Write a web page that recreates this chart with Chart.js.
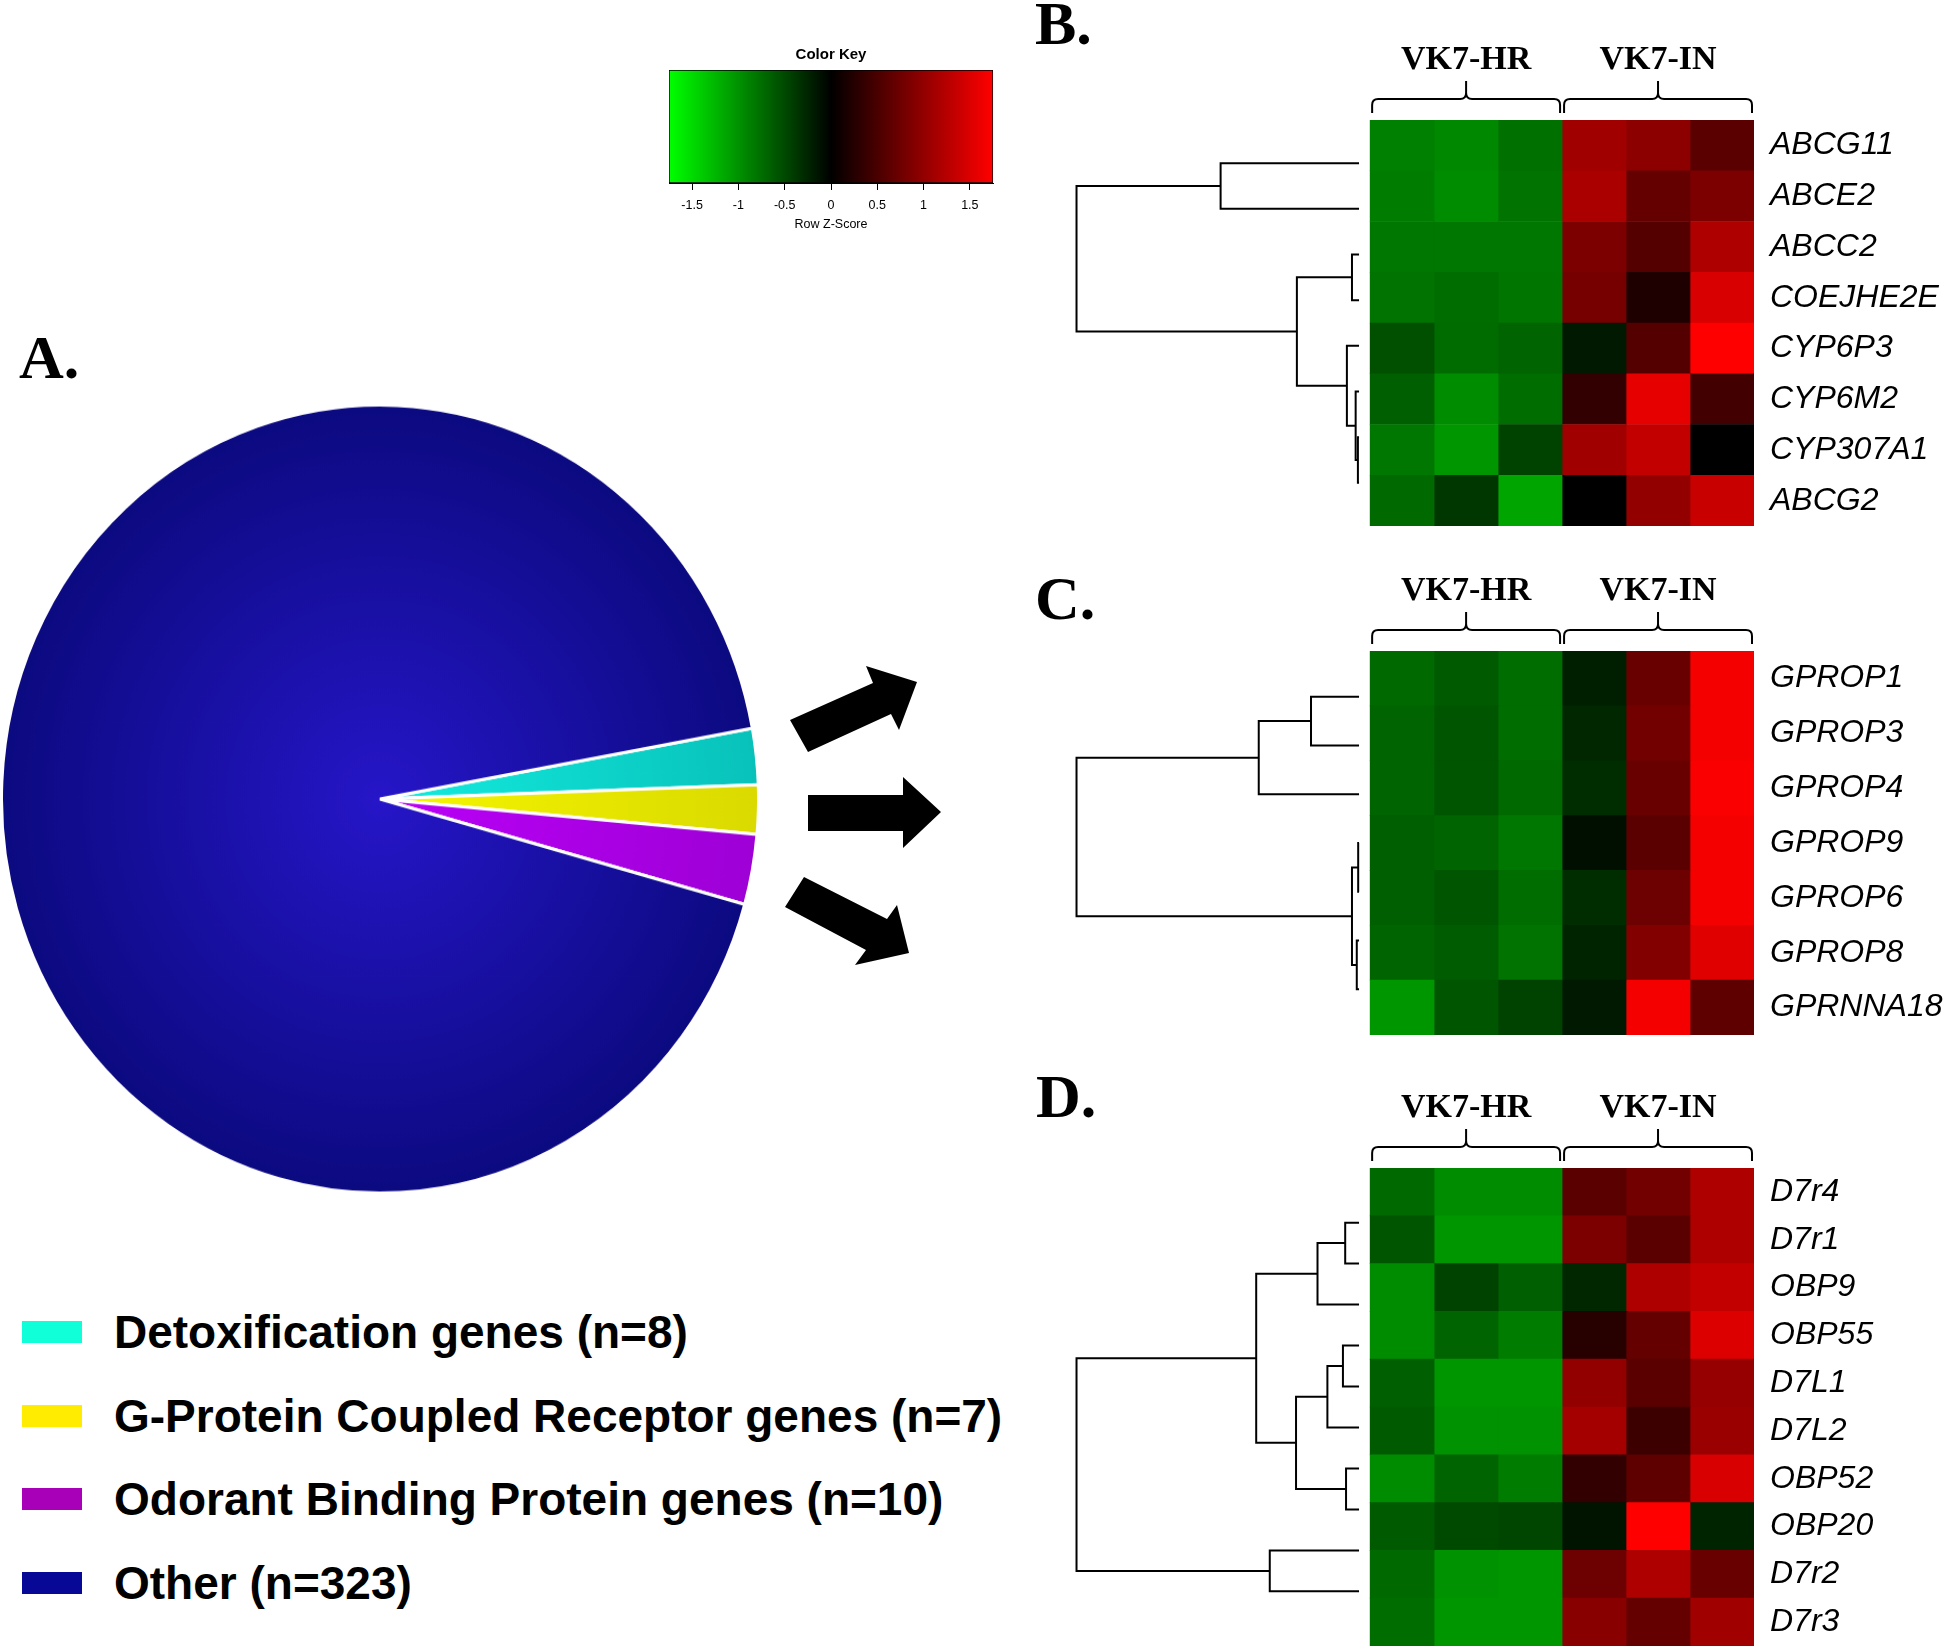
<!doctype html>
<html lang="en">
<head>
<meta charset="utf-8">
<title>Gene categories and expression heatmaps</title>
<script src="https://cdn.jsdelivr.net/npm/chart.js"></script>
<style>
  html, body { margin: 0; padding: 0; background: #fff; }
  body { position: relative; width: 1944px; height: 1650px; overflow: hidden; font-family: 'Liberation Sans', Arial, sans-serif; }
  .box { position: absolute; }
  .letter { position: absolute; font-family: 'Liberation Serif', 'Times New Roman', serif; font-weight: bold; font-size: 62px; line-height: 62px; color: #000; }
  .legend-row { position: absolute; left: 22px; height: 54px; display: flex; align-items: center; }
  .legend-row .sw { width: 60px; height: 22px; margin-right: 32px; }
  .legend-row .tx { font-weight: bold; font-size: 46px; line-height: 54px; color: #000; white-space: nowrap; }
  #arrows { position: absolute; left: 0; top: 0; pointer-events: none; }
</style>
</head>
<body>

<div class="letter" style="left:19px; top:326px;">A.</div>
<div class="letter" style="left:1035px; top:-8px;">B.</div>
<div class="letter" style="left:1035px; top:567px;">C.</div>
<div class="letter" style="left:1036px; top:1065px;">D.</div>

<div class="box" id="pieBox" style="left:0; top:419px; width:760px; height:760px; transform:scaleY(1.041); transform-origin:50% 50%;">
  <canvas id="pieChart"></canvas>
</div>
<div id="legend"></div>

<div class="box" style="left:639px; top:46px; width:384px; height:188px;">
  <canvas id="keyChart"></canvas>
</div>

<div class="box" style="left:1060px; top:38px; width:884px; height:488px;">
  <canvas id="detoxChart"></canvas>
</div>
<div class="box" style="left:1060px; top:569px; width:884px; height:466px;">
  <canvas id="gpcrChart"></canvas>
</div>
<div class="box" style="left:1060px; top:1086px; width:884px; height:560px;">
  <canvas id="obpChart"></canvas>
</div>

<svg id="arrows" width="1944" height="1650">
  <polygon points="790,720 873,683 866,666 917,682 899,730 891,714 808,752" fill="#000"/>
  <polygon points="808,795 903,795 903,777 941,812 903,848 903,831 808,831" fill="#000"/>
  <polygon points="804,877 887,919 897,905 909,953 855,965 866,950 785,907" fill="#000"/>
</svg>

<script>
// ---- pie (panel A) ----
const pieCategories = ['Detoxification genes', 'G-Protein Coupled Receptor genes', 'Odorant Binding Protein genes', 'Other'];
const pieCounts = [8, 7, 10, 323];

// ---- heatmap columns / groups ----
const sampleNames = ['HR-1', 'HR-2', 'HR-3', 'IN-1', 'IN-2', 'IN-3'];
const groupNames = ['VK7-HR', 'VK7-IN'];
const samplesPerGroup = 3;

// ---- color key ----
const keyMin = -1.75;
const keyMax = 1.75;
const keyTicks = [-1.5, -1, -0.5, 0, 0.5, 1, 1.5];

// ---- panel B: detoxification genes (row z-scores) ----
const detoxGenes = ['ABCG11', 'ABCE2', 'ABCC2', 'COEJHE2E', 'CYP6P3', 'CYP6M2', 'CYP307A1', 'ABCG2'];
const detoxValues = [
  [-0.88, -0.93, -0.77, 1.10, 0.96, 0.62],
  [-0.86, -0.96, -0.79, 1.17, 0.69, 0.86],
  [-0.82, -0.82, -0.82, 0.86, 0.58, 1.20],
  [-0.79, -0.75, -0.81, 0.81, 0.21, 1.48],
  [-0.55, -0.74, -0.69, -0.17, 0.58, 1.75],
  [-0.65, -0.96, -0.75, 0.34, 1.58, 0.45],
  [-0.82, -1.03, -0.45, 1.10, 1.34, 0.00],
  [-0.72, -0.38, -1.13, 0.00, 1.00, 1.37]
];
// merges: [a, b, height]; ids < n are rows, id n+j is merge j
const detoxMerges = [
  [6, 7, 0.04],
  [5, 8, 0.12],
  [4, 9, 0.43],
  [2, 3, 0.25],
  [11, 10, 2.2],
  [0, 1, 4.9],
  [13, 12, 10]
];

// ---- panel C: G-protein coupled receptor genes ----
const gpcrGenes = ['GPROP1', 'GPROP3', 'GPROP4', 'GPROP9', 'GPROP6', 'GPROP8', 'GPRNNA18'];
const gpcrValues = [
  [-0.72, -0.62, -0.75, -0.21, 0.72, 1.68],
  [-0.69, -0.58, -0.75, -0.27, 0.79, 1.68],
  [-0.69, -0.58, -0.72, -0.31, 0.72, 1.72],
  [-0.65, -0.69, -0.82, -0.10, 0.62, 1.68],
  [-0.65, -0.58, -0.75, -0.31, 0.75, 1.68],
  [-0.69, -0.63, -0.79, -0.24, 0.89, 1.54],
  [-1.03, -0.58, -0.45, -0.17, 1.68, 0.65]
];
const gpcrMerges = [
  [0, 1, 1.7],
  [7, 2, 3.55],
  [3, 4, 0.03],
  [5, 6, 0.08],
  [9, 10, 0.25],
  [8, 11, 10]
];

// ---- panel D: odorant binding protein genes ----
const obpGenes = ['D7r4', 'D7r1', 'OBP9', 'OBP55', 'D7L1', 'D7L2', 'OBP52', 'OBP20', 'D7r2', 'D7r3'];
const obpValues = [
  [-0.72, -0.96, -0.96, 0.62, 0.79, 1.20],
  [-0.58, -1.03, -1.03, 0.86, 0.62, 1.20],
  [-0.96, -0.45, -0.65, -0.27, 1.20, 1.34],
  [-0.96, -0.69, -0.86, 0.27, 0.69, 1.51],
  [-0.65, -1.03, -1.03, 1.00, 0.62, 1.03],
  [-0.62, -1.00, -1.00, 1.13, 0.41, 1.06],
  [-0.96, -0.69, -0.86, 0.34, 0.65, 1.48],
  [-0.62, -0.51, -0.48, -0.14, 1.75, -0.24],
  [-0.72, -1.00, -1.03, 0.75, 1.20, 0.72],
  [-0.75, -1.03, -1.03, 0.93, 0.69, 1.10]
];
const obpMerges = [
  [0, 1, 0.49],
  [10, 2, 1.47],
  [3, 4, 0.57],
  [12, 5, 1.12],
  [6, 7, 0.46],
  [13, 14, 2.23],
  [11, 15, 3.64],
  [8, 9, 3.16],
  [16, 17, 10]
];

// slice colours (gradient centre -> rim) and legend swatches
const sliceInner = ['rgb(20,236,224)', 'rgb(246,246,0)', 'rgb(186,0,248)', 'rgb(38,22,200)'];
const sliceOuter = ['rgb(8,194,186)', 'rgb(218,218,0)', 'rgb(158,0,214)', 'rgb(12,10,128)'];
const swatchColors = ['rgb(16,255,216)', 'rgb(255,236,0)', 'rgb(168,0,184)', 'rgb(8,8,150)'];

Chart.defaults.font.family = "'Liberation Sans', Arial, sans-serif";
Chart.defaults.color = '#000';
Chart.defaults.animation = false;

function zToColor(z) {
  const v = Math.round(255 * Math.min(1, Math.abs(z) / keyMax));
  return z < 0 ? `rgb(0,${v},0)` : `rgb(${v},0,0)`;
}

// pie
new Chart(document.getElementById('pieChart'), {
  type: 'pie',
  data: {
    labels: pieCategories,
    datasets: [{
      data: pieCounts,
      backgroundColor: (c) => {
        const a = c.chart.chartArea;
        if (!a) return sliceInner[c.dataIndex];
        const cx = (a.left + a.right) / 2, cy = (a.top + a.bottom) / 2;
        const r = Math.min(a.width, a.height) / 2;
        const g = c.chart.ctx.createRadialGradient(cx, cy, 0, cx, cy, r);
        g.addColorStop(0, sliceInner[c.dataIndex]);
        g.addColorStop(1, sliceOuter[c.dataIndex]);
        return g;
      },
      borderColor: '#fff',
      borderWidth: 3
    }]
  },
  options: {
    responsive: true,
    maintainAspectRatio: false,
    rotation: 79.65,
    layout: { padding: 0 },
    plugins: { legend: { display: false }, tooltip: { enabled: false } }
  }
});

// legend for the pie, built from the same arrays
const legendEl = document.getElementById('legend');
pieCategories.forEach((name, i) => {
  const row = document.createElement('div');
  row.className = 'legend-row';
  row.style.top = (1305 + i * 83.7) + 'px';
  row.innerHTML = `<div class="sw" style="background:${swatchColors[i]}"></div><div class="tx">${name} (n=${pieCounts[i]})</div>`;
  legendEl.appendChild(row);
});

// color key
new Chart(document.getElementById('keyChart'), {
  type: 'bar',
  data: {
    labels: [''],
    datasets: [{
      data: [[keyMin, keyMax]],
      backgroundColor: (c) => {
        const ch = c.chart;
        if (!ch.chartArea) return '#000';
        const x = ch.scales.x;
        const g = ch.ctx.createLinearGradient(x.getPixelForValue(keyMin), 0, x.getPixelForValue(keyMax), 0);
        g.addColorStop(0, zToColor(keyMin));
        g.addColorStop(0.5, zToColor(0));
        g.addColorStop(1, zToColor(keyMax));
        return g;
      },
      borderColor: '#000',
      borderWidth: 1,
      borderSkipped: false,
      barPercentage: 1,
      categoryPercentage: 1
    }]
  },
  options: {
    indexAxis: 'y',
    responsive: true,
    maintainAspectRatio: false,
    layout: { padding: { left: 30, right: 30, top: 0, bottom: 0 } },
    plugins: {
      legend: { display: false },
      tooltip: { enabled: false },
      title: { display: true, text: 'Color Key', font: { size: 15, weight: 'bold' }, color: '#000', padding: { top: 0, bottom: 6 } }
    },
    scales: {
      y: { display: false },
      x: {
        min: keyMin,
        max: keyMax,
        afterBuildTicks: (s) => { s.ticks = keyTicks.map(v => ({ value: v })); },
        afterFit: (s) => { s.height = 51; },
        ticks: { callback: (v) => String(v), font: { size: 12.5 }, color: '#000', padding: 8.5, maxRotation: 0 },
        grid: { drawOnChartArea: false, drawTicks: true, tickLength: 7, color: '#000' },
        border: { color: '#000' },
        title: { display: true, text: 'Row Z-Score', font: { size: 12.5 }, color: '#000', padding: { top: 3.5, bottom: 2 } }
      }
    }
  }
});

// brackets over the two sample groups
const bracketPlugin = {
  id: 'groupBrackets',
  afterDraw(chart) {
    const { ctx, chartArea, scales } = chart;
    const x = scales.x;
    const yEnd = chartArea.top - 7, yH = chartArea.top - 21, yPeak = chartArea.top - 39, r = 6;
    ctx.save();
    ctx.strokeStyle = '#000';
    ctx.lineWidth = 2;
    groupNames.forEach((g, i) => {
      const x0 = x.getPixelForValue(i * samplesPerGroup) + 2;
      const x1 = x.getPixelForValue((i + 1) * samplesPerGroup) - 2;
      const xm = (x0 + x1) / 2;
      ctx.beginPath();
      ctx.moveTo(x0, yEnd);
      ctx.lineTo(x0, yH + r);
      ctx.quadraticCurveTo(x0, yH, x0 + r, yH);
      ctx.lineTo(xm - r, yH);
      ctx.quadraticCurveTo(xm, yH, xm, yH - r);
      ctx.lineTo(xm, yPeak);
      ctx.moveTo(xm, yH - r);
      ctx.quadraticCurveTo(xm, yH, xm + r, yH);
      ctx.lineTo(x1 - r, yH);
      ctx.quadraticCurveTo(x1, yH, x1, yH + r);
      ctx.lineTo(x1, yEnd);
      ctx.stroke();
    });
    ctx.restore();
  }
};

function dendroSegments(merges, n) {
  const pos = [], ht = [];
  for (let i = 0; i < n; i++) { pos[i] = i; ht[i] = 0; }
  return merges.map(([a, b, h], j) => {
    pos[n + j] = (pos[a] + pos[b]) / 2;
    ht[n + j] = h;
    return [{ x: ht[a], y: pos[a] }, { x: h, y: pos[a] }, { x: h, y: pos[b] }, { x: ht[b], y: pos[b] }];
  });
}

function makeHeatmap(id, genes, values, merges) {
  const nCols = sampleNames.length;
  const bars = sampleNames.map((s, c) => ({
    type: 'bar',
    label: s,
    data: genes.map(() => 1),
    backgroundColor: values.map(row => zToColor(row[c])),
    borderWidth: 0,
    grouped: false,
    barPercentage: 1,
    categoryPercentage: 1,
    xAxisID: 'x',
    yAxisID: 'y'
  }));
  const links = dendroSegments(merges, genes.length).map(seg => ({
    type: 'line',
    data: seg,
    borderColor: '#000',
    borderWidth: 2,
    pointRadius: 0,
    fill: false,
    tension: 0,
    xAxisID: 'xd',
    yAxisID: 'yd'
  }));
  return new Chart(document.getElementById(id), {
    type: 'bar',
    data: { labels: genes, datasets: bars.concat(links) },
    plugins: [bracketPlugin],
    options: {
      indexAxis: 'y',
      responsive: true,
      maintainAspectRatio: false,
      layout: { padding: { left: 12, right: 0, top: 0, bottom: 0 } },
      plugins: { legend: { display: false }, tooltip: { enabled: false } },
      scales: {
        x: { type: 'linear', stacked: true, display: false, min: -4.66, max: nCols },
        xd: { type: 'linear', display: false, min: -13.98, max: 10.16, reverse: true },
        xt: {
          type: 'linear', position: 'top', min: -4.66, max: nCols,
          afterBuildTicks: (s) => { s.ticks = groupNames.map((g, i) => ({ value: (i + 0.5) * samplesPerGroup })); },
          afterFit: (s) => { s.height = 82; s.paddingLeft = 0; s.paddingRight = 0; },
          ticks: {
            callback: (v, i) => groupNames[i],
            font: { family: "'Liberation Serif', 'Times New Roman', serif", size: 34, weight: 'bold' },
            color: '#000', padding: 39, autoSkip: false, maxRotation: 0
          },
          grid: { display: false, drawTicks: false },
          border: { display: false }
        },
        y: {
          type: 'category', position: 'right', stacked: true, offset: true,
          afterFit: (s) => { s.width = 190; s.paddingTop = 0; s.paddingBottom = 0; },
          ticks: { font: { size: 32, style: 'italic' }, color: '#000', padding: 16, autoSkip: false },
          grid: { display: false, drawTicks: false },
          border: { display: false }
        },
        yd: { type: 'linear', display: false, min: -0.5, max: genes.length - 0.5, reverse: true }
      }
    }
  });
}

makeHeatmap('detoxChart', detoxGenes, detoxValues, detoxMerges);
makeHeatmap('gpcrChart', gpcrGenes, gpcrValues, gpcrMerges);
makeHeatmap('obpChart', obpGenes, obpValues, obpMerges);
</script>
</body>
</html>
